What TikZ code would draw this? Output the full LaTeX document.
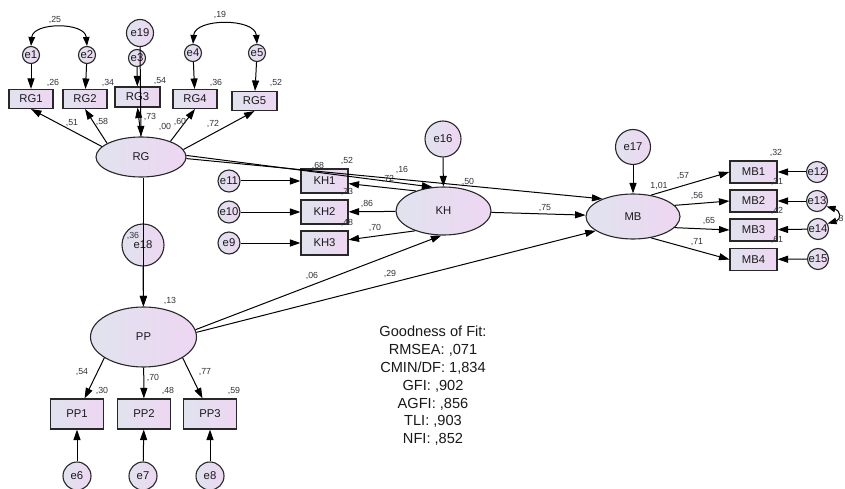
\documentclass[tikz,border=0pt]{standalone}
\usepackage{fontspec}
\setmainfont{Liberation Sans}
\usetikzlibrary{arrows.meta,shapes.geometric,calc}
\definecolor{gA}{RGB}{224,227,238}
\definecolor{gB}{RGB}{238,214,242}
\definecolor{edgec}{RGB}{40,40,40}
\definecolor{lblc}{RGB}{50,50,60}
\begin{document}
\begin{tikzpicture}[x=1pt,y=-1pt,
 every node/.style={inner sep=0pt},
 obs/.style={draw=edgec, line width=1.1pt, left color=gA, right color=gB, rectangle, font=\fontsize{11.3}{13}\selectfont, text=black!90},
 lat/.style={draw=edgec, line width=1.1pt, left color=gA, right color=gB, ellipse, font=\fontsize{11.3}{13}\selectfont, text=black!90},
 err/.style={draw=edgec, line width=1.1pt, left color=gA, right color=gB, circle, font=\fontsize{11.3}{13}\selectfont, text=black!90},
 pth/.style={draw=black, line width=1pt, -{Triangle[length=10.5pt,width=7pt]}},
 cov/.style={draw=black, line width=1pt, {Triangle[length=9pt,width=6.5pt]}-{Triangle[length=9pt,width=6.5pt]}},
 lab/.style={font=\fontsize{8.8}{10}\selectfont, text=lblc},
]
\useasboundingbox[fill=white] (0,0) rectangle (845,489);

% ---- RG block
\node[err, minimum size=17pt] (e1) at (31,55) {e1};
\node[err, minimum size=17pt] (e2) at (87,55) {e2};
\node[err, minimum size=27pt] (e19) at (140,33) {e19};
\node[err, minimum size=17pt] (e3) at (137,58) {e3};
\node[err, minimum size=17pt] (e4) at (193,53) {e4};
\node[err, minimum size=17pt] (e5) at (257,53) {e5};
\node[obs, minimum width=44pt, minimum height=19pt] (RG1) at (31,99) {RG1};
\node[obs, minimum width=44pt, minimum height=19pt] (RG2) at (85,99) {RG2};
\node[obs, minimum width=45pt, minimum height=20pt] (RG3) at (137.5,97) {RG3};
\node[obs, minimum width=44pt, minimum height=19pt] (RG4) at (195,99) {RG4};
\node[obs, minimum width=45pt, minimum height=19pt] (RG5) at (254.5,101) {RG5};
\node[lat, minimum width=90pt, minimum height=40pt] (RG) at (141,157) {RG};

% ---- KH block
\node[err, minimum size=22pt] (e11) at (229,181) {e11};
\node[err, minimum size=22pt] (e10) at (229,212) {e10};
\node[err, minimum size=22pt] (e9) at (229,243) {e9};
\node[obs, minimum width=47pt, minimum height=24pt] (KH1) at (324.5,181) {KH1};
\node[obs, minimum width=47pt, minimum height=24pt] (KH2) at (324.5,212) {KH2};
\node[obs, minimum width=47pt, minimum height=24pt] (KH3) at (324.5,243) {KH3};
\node[lat, minimum width=95pt, minimum height=48pt] (KH) at (443.5,211) {KH};
\node[err, minimum size=36pt] (e16) at (443,139) {e16};

% ---- MB block
\node[err, minimum size=35pt] (e17) at (633,147) {e17};
\node[lat, minimum width=94pt, minimum height=45pt] (MB) at (633,216.5) {MB};
\node[obs, minimum width=47pt, minimum height=22pt] (MB1) at (753.5,172) {MB1};
\node[obs, minimum width=47pt, minimum height=22pt] (MB2) at (753.5,201) {MB2};
\node[obs, minimum width=47pt, minimum height=22pt] (MB3) at (753.5,230) {MB3};
\node[obs, minimum width=47pt, minimum height=22pt] (MB4) at (753.5,259.5) {MB4};
\node[err, minimum size=21pt] (e12) at (817,172) {e12};
\node[err, minimum size=21pt] (e13) at (817,201) {e13};
\node[err, minimum size=21pt] (e14) at (818,229) {e14};
\node[err, minimum size=21pt] (e15) at (818,259) {e15};

% ---- PP block
\node[err, minimum size=42pt] (e18) at (143,245) {e18};
\node[lat, minimum width=106pt, minimum height=60pt] (PP) at (143.5,337) {PP};
\node[obs, minimum width=53pt, minimum height=30pt] (PP1) at (77,414) {PP1};
\node[obs, minimum width=53pt, minimum height=30pt] (PP2) at (144,414) {PP2};
\node[obs, minimum width=53pt, minimum height=30pt] (PP3) at (210,414) {PP3};
\node[err, minimum size=28pt] (e6) at (77,476) {e6};
\node[err, minimum size=28pt] (e7) at (143,476) {e7};
\node[err, minimum size=28pt] (e8) at (210,476) {e8};

% ---- paths
\draw[pth] (e1) -- (RG1);
\draw[pth] (e2) -- (RG2);
\draw[pth] (e3) -- (RG3);
\draw[pth] (e4) -- (RG4);
\draw[pth] (e5) -- (RG5);
\draw[pth] (RG.165) -- (RG1.south);
\draw[pth] (RG.158) -- (RG2.south);
\draw[pth] (RG.north) -- (RG3.south);
\draw[pth] (RG.28) -- (RG4.south);
\draw[pth] (RG.10) -- (RG5.south);
\draw[pth] (e19.south) -- (RG.north);
\draw[pth] (RG.2) -- (KH.115);
\draw[pth] (RG.-2) -- (MB.150);
\draw[pth] (e11) -- (KH1);
\draw[pth] (e10) -- (KH2);
\draw[pth] (e9) -- (KH3);
\draw[pth] (KH.144) -- (KH1);
\draw[pth] (KH) -- (KH2);
\draw[pth] (KH.215) -- (KH3);
\draw[pth] (e16) -- (KH);
\draw[pth] (KH) -- (MB);
\draw[pth] (e17) -- (MB);
\draw[pth] (MB.50) -- (MB1.west);
\draw[pth] (MB.15) -- (MB2.west);
\draw[pth] (MB.-15) -- (MB3.west);
\draw[pth] (MB.-50) -- (MB4.west);
\draw[pth] (e12) -- (MB1);
\draw[pth] (e13) -- (MB2);
\draw[pth] (e14) -- (MB3);
\draw[pth] (e15) -- (MB4);
\draw[pth] (RG.south -| PP.north) -- (PP.north);
\draw[pth] (e18) -- (PP);
\draw[pth] (PP.8) -- (KH.265);
\draw[pth] (PP.5) -- (MB.201);
\draw[pth] (PP.208) -- (PP1);
\draw[pth] (PP) -- (PP2);
\draw[pth] (PP.-28) -- (PP3);
\draw[pth] (e6) -- (PP1);
\draw[pth] (e7) -- (PP2);
\draw[pth] (e8) -- (PP3);

% ---- covariances
\draw[cov] (e1.north) .. controls +(2,-24) and +(-2,-24) .. (e2.north);
\draw[cov] (e4.north) .. controls +(2,-26) and +(-2,-26) .. (e5.north);
\draw[cov] (e13.-30) .. controls +(14,4) and +(14,-4) .. (e14.30);

% ---- labels
\node[lab] (l1) at (55,20) {,25};
\node[lab] (l2) at (220,15) {,19};
\node[lab] (l3) at (53,83) {,26};
\node[lab] (l4) at (108,83) {,34};
\node[lab] (l5) at (160,81) {,54};
\node[lab] (l6) at (216,83) {,36};
\node[lab] (l7) at (276,83) {,52};
\node[lab] (l8) at (72,123) {,51};
\node[lab] (l9) at (102,122) {,58};
\node[lab] (l10) at (150,117) {,73};
\node[lab] (l11) at (165,127) {,00};
\node[lab] (l12) at (180,122) {,60};
\node[lab] (l13) at (213,124) {,72};
\node[lab] (l14) at (318,166) {,68};
\node[lab] (l15) at (347,161) {,52};
\node[lab] (l16) at (402,170) {,16};
\node[lab] (l17) at (388,179) {,72};
\node[lab] (l18) at (468,182) {,50};
\node[lab] (l19) at (347,192) {,73};
\node[lab] (l20) at (367,204) {,86};
\node[lab] (l21) at (347,223) {,48};
\node[lab] (l22) at (375,228) {,70};
\node[lab] (l23) at (545,208) {,75};
\node[lab] (l24) at (312,276) {,06};
\node[lab] (l25) at (390,274) {,29};
\node[lab] (l26) at (133,236) {,36};
\node[lab] (l27) at (170,301) {,13};
\node[lab] (l28) at (82,372) {,54};
\node[lab] (l29) at (102,391) {,30};
\node[lab] (l30) at (153,378) {,70};
\node[lab] (l31) at (168,391) {,48};
\node[lab] (l32) at (205,372) {,77};
\node[lab] (l33) at (234,391) {,59};
\node[lab] (l34) at (776,153) {,32};
\node[lab] (l35) at (659,186) {1,01};
\node[lab] (l36) at (683,176) {,57};
\node[lab] (l37) at (777,182) {,31};
\node[lab] (l38) at (697,196) {,56};
\node[lab] (l39) at (777,211) {,42};
\node[lab] (l40) at (709,221) {,65};
\node[lab] (l41) at (777,240) {,61};
\node[lab] (l42) at (697,242) {,71};
\node[lab, anchor=west] (l43) at (836,219) {,3};

% ---- fit box
\node[align=center, font=\fontsize{14.6}{17.8}\selectfont, text=black!90] (gof) at (433,386)
 {Goodness of Fit:\\RMSEA: ,071\\CMIN/DF: 1,834\\GFI: ,902\\AGFI: ,856\\TLI: ,903\\NFI: ,852};
\end{tikzpicture}
\end{document}
